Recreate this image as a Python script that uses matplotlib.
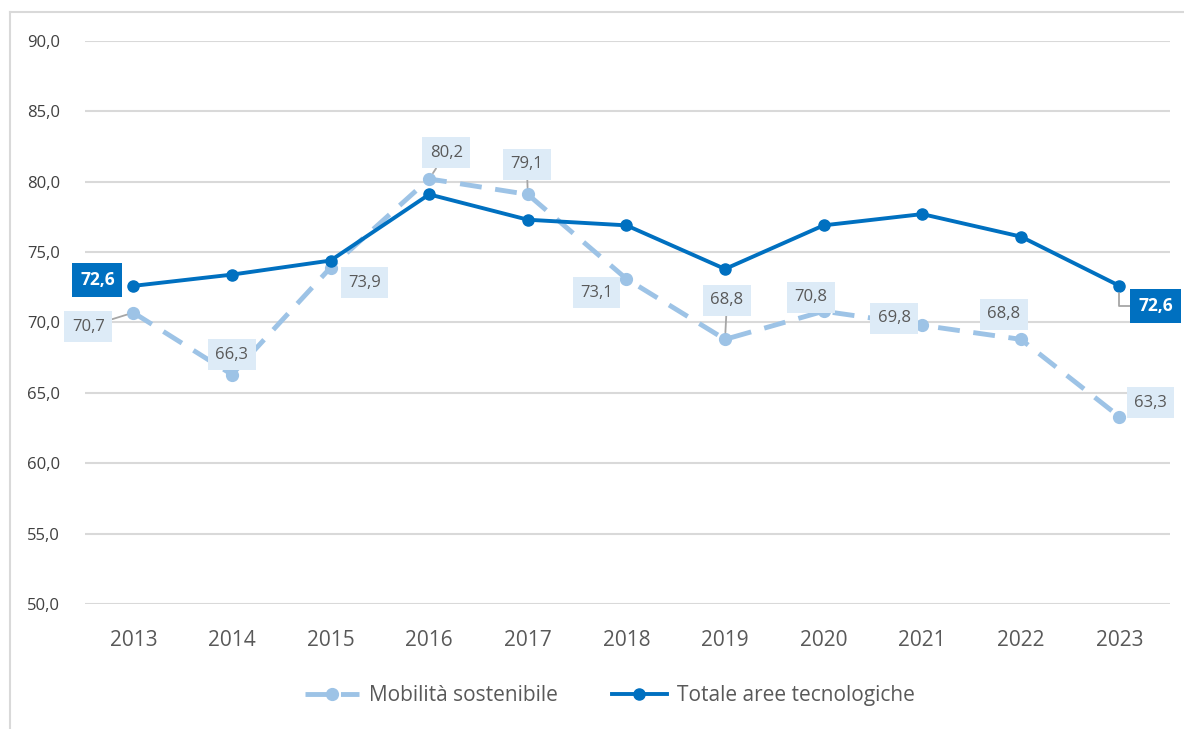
import matplotlib
matplotlib.use("Agg")
import matplotlib.pyplot as plt
from matplotlib.lines import Line2D

years = ["2013", "2014", "2015", "2016", "2017", "2018", "2019", "2020", "2021", "2022", "2023"]
mobilita = [70.7, 66.3, 73.9, 80.2, 79.1, 73.1, 68.8, 70.8, 69.8, 68.8, 63.3]
totale = [72.6, 73.4, 74.4, 79.1, 77.3, 76.9, 73.8, 76.9, 77.7, 76.1, 72.6]
series_names = ["Mobilità sostenibile", "Totale aree tecnologiche"]
y_ticks = [50, 55, 60, 65, 70, 75, 80, 85, 90]

DARK = "#0070C0"
LIGHT = "#9DC3E6"
BOX = "#DDEBF7"
TXT = "#595959"
GRID = "#D9D9D9"

plt.rcParams["font.family"] = ["Open Sans", "DejaVu Sans"]

fig = plt.figure(figsize=(11.84, 7.29), dpi=100)
ax = fig.add_axes([0.0718, 0.1715, 0.9162, 0.7723])

x = list(range(len(years)))
ax.plot(x, mobilita, color=LIGHT, lw=3.5, ls=(0, (4.5, 2.8)), marker="o", ms=8.5,
        markeredgecolor=LIGHT, zorder=3, label=series_names[0])
ax.plot(x, totale, color=DARK, lw=2.8, marker="o", ms=8,
        zorder=4, label=series_names[1])

ax.set_ylim(50, 90)
ax.set_xlim(-0.49, 10.51)
ax.set_yticks(y_ticks)
ax.set_yticklabels([f"{v:.1f}".replace(".", ",") for v in y_ticks], fontsize=12, color="#404040")
ax.set_xticks(x)
ax.set_xticklabels(years, fontsize=15, color=TXT)
ax.tick_params(axis="both", length=0)
ax.tick_params(axis="y", pad=18)
ax.tick_params(axis="x", pad=19)
ax.grid(axis="y", color=GRID, lw=1.5)
ax.set_axisbelow(True)
for s in ax.spines.values():
    s.set_visible(False)

def fmt(v):
    return f"{v:.1f}".replace(".", ",")

# (dx, dy) offsets in pixels, leader line flag
mob_offsets = [(-45, -14, True), (0, 20, False), (34, -15, False), (17, 26, True),
               (-1, 30, True), (-30, -14, False), (2, 39, True), (-13, 14, False),
               (-28, 7, False), (-17, 25, False), (31, 14, False)]
for i, v in enumerate(mobilita):
    dx, dy, lead = mob_offsets[i]
    kw = {}
    if lead:
        kw["arrowprops"] = dict(arrowstyle="-", color="#A6A6A6", lw=1.3, shrinkA=0, shrinkB=5)
    ax.annotate(fmt(v), (i, v), xytext=(dx, dy), textcoords="offset pixels",
                ha="center", va="center", fontsize=12, color=TXT, zorder=6,
                bbox=dict(boxstyle="square,pad=0.45", fc=BOX, ec="none"), **kw)

tot_offsets = {0: (-36, 6, False), 10: (36, -20, True)}
for i, (dx, dy, lead) in tot_offsets.items():
    kw = {}
    if lead:
        kw["arrowprops"] = dict(arrowstyle="-", color="#A6A6A6", lw=1.3, shrinkA=0, shrinkB=5,
                                connectionstyle="angle,angleA=0,angleB=90,rad=0")
    ax.annotate(fmt(totale[i]), (i, totale[i]), xytext=(dx, dy), textcoords="offset pixels",
                ha="center", va="center", fontsize=12.5, color="white", fontweight="bold",
                zorder=7, bbox=dict(boxstyle="square,pad=0.45", fc=DARK, ec="none"), **kw)

fig.legend(loc="center", bbox_to_anchor=(0.515, 0.046), ncol=2, frameon=False,
           fontsize=15, labelcolor=TXT, handlelength=2.6, columnspacing=2.6,
           handletextpad=0.5)

# outer frame (left and top)
fig.add_artist(Line2D([10/1184, 10/1184], [0, 1 - 12/729], transform=fig.transFigure,
                      color=GRID, lw=1.5))
fig.add_artist(Line2D([10/1184, 1], [1 - 12/729, 1 - 12/729], transform=fig.transFigure,
                      color=GRID, lw=1.5))

fig.savefig("out.png", dpi=100)
